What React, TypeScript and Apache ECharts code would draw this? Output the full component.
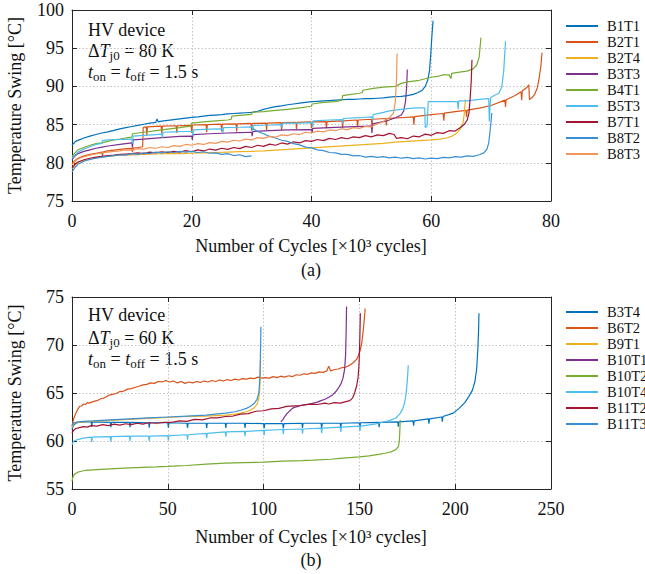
import React, { useEffect, useRef } from 'react';
import * as echarts from 'echarts';

const FONT = "'Liberation Serif', 'Times New Roman', Times, serif";

// ---------- Panel (a): ΔTj0 = 80 K ----------
const namesA = ['B1T1', 'B2T1', 'B2T4', 'B3T3', 'B4T1', 'B5T3', 'B7T1', 'B8T2', 'B8T3'];
const colorsA = ['#0072BD', '#D95319', '#EDB120', '#7E2F8E', '#77AC30', '#4DBEEE', '#A2142F', '#3A8FD4', '#F0955A'];
const xRangeA = [0, 80, 20];
const yRangeA = [75, 100, 5];

const a_B1T1: [number, number][] = [
  [0, 82.3], [0.6, 82.8], [1.2, 83.0], [2, 83.25], [3, 83.5], [4, 83.7], [5, 83.9], [6, 84.05], [7, 84.25], [8, 84.45], [9, 84.6], [10, 84.75], [11, 84.9], [12, 85.05], [13, 85.2], [14, 85.3], [14.2, 85.75], [14.4, 85.35], [15, 85.45], [16, 85.55], [17, 85.65], [18, 85.75], [19, 85.85], [20, 85.95], [21, 86.0], [22, 86.1], [23, 86.2], [24, 86.25], [25, 86.3], [26, 86.4], [27, 86.45], [28, 86.5], [29, 86.55], [30, 86.6], [31, 86.75], [32, 87.0], [33, 87.2], [34, 87.35], [35, 87.45], [36, 87.6], [37, 87.7], [38, 87.8], [39, 87.9], [40, 88.0], [41, 88.05], [42, 88.1], [43, 88.15], [44, 88.2], [45, 88.25], [46, 88.3], [47, 88.3], [48, 88.35], [49, 88.4], [50, 88.4], [51, 88.45], [52, 88.5], [53, 88.6], [54, 88.65], [55, 88.7], [56, 88.8], [57, 88.95], [57.8, 89.2], [58.5, 89.5], [59.0, 90.0], [59.4, 90.8], [59.7, 92.0], [59.9, 94.0], [60.1, 96.5], [60.3, 98.6],
];
const a_B2T1: [number, number][] = [
  [0, 79.9], [0.5, 80.3], [1, 80.6], [2, 80.9], [3, 81.1], [4, 81.25], [5, 81.4], [5.1, 80.9], [5.2, 81.45], [6, 81.55], [7, 81.65], [8, 81.75], [9, 81.85], [10, 81.9], [10.1, 81.4], [10.2, 81.95], [11, 82.0], [11.8, 82.1], [11.9, 84.65], [12.4, 84.7], [12.5, 83.6], [12.6, 84.7], [14.9, 84.8], [15.0, 83.8], [15.1, 84.8], [17.4, 84.85], [17.5, 83.9], [17.6, 84.85], [19.9, 84.9], [20.0, 83.9], [20.1, 84.95], [22.4, 85.0], [22.5, 84.0], [22.6, 85.0], [24.9, 85.05], [25.0, 84.1], [25.1, 85.05], [27.4, 85.1], [27.5, 84.1], [27.6, 85.1], [29.9, 85.15], [30.0, 84.2], [30.1, 85.15], [32.4, 85.2], [32.5, 84.3], [32.6, 85.2], [34.9, 85.25], [35.0, 84.3], [35.1, 85.25], [37.4, 85.3], [37.5, 84.4], [37.6, 85.3], [39.9, 85.35], [40.0, 84.5], [40.1, 85.35], [42.4, 85.4], [42.5, 84.5], [42.6, 85.4], [45.1, 85.5], [45.2, 84.6], [45.3, 85.5], [47.6, 85.6], [47.7, 84.7], [47.8, 85.6], [50.0, 85.7], [50.1, 84.8], [50.2, 85.7], [52.4, 85.8], [52.5, 84.9], [52.6, 85.8], [55.0, 85.9], [57.0, 86.0], [57.1, 85.0], [57.2, 86.05], [60.0, 86.3], [62.0, 86.45], [62.1, 85.5], [62.2, 86.5], [64.0, 86.7], [65.8, 86.85], [65.9, 86.0], [66.0, 86.9], [68.0, 87.15], [70.0, 87.5], [72.3, 88.2], [72.4, 87.3], [72.5, 88.25], [74.0, 88.8], [75.0, 89.3], [75.1, 88.2], [75.2, 89.4], [76.0, 89.9], [76.3, 90.2], [76.4, 88.3], [76.8, 88.5], [77.3, 89.0], [77.7, 89.8], [78.0, 91.0], [78.3, 92.6], [78.5, 94.4],
];
const a_B2T4: [number, number][] = [
  [0, 79.2], [0.5, 79.7], [1, 80.0], [2, 80.3], [3, 80.5], [4, 80.65], [5, 80.75], [6, 80.85], [8, 81.0], [10, 81.05], [12, 81.1], [14, 81.15], [16, 81.2], [18, 81.2], [20, 81.25], [22, 81.3], [24, 81.35], [26, 81.4], [28, 81.45], [30, 81.5], [32, 81.55], [34, 81.65], [36, 81.75], [38, 81.85], [40, 81.95], [42, 82.05], [44, 82.15], [46, 82.25], [48, 82.35], [50, 82.45], [52, 82.55], [54, 82.7], [56, 82.8], [58, 82.9], [60, 83.0], [61.5, 83.1], [62.5, 83.25], [63.5, 83.5], [64.3, 83.9], [64.9, 84.5], [65.3, 85.2], [65.5, 86.3], [65.7, 88.3],
];
const a_B3T3: [number, number][] = [
  [0, 80.4], [0.5, 80.9], [1, 81.2], [2, 81.5], [3, 81.7], [4, 81.9], [5, 82.05], [6, 82.2], [8, 82.4], [10, 82.6], [10.1, 82.0], [10.2, 83.0], [12, 83.1], [15, 83.3], [18, 83.45], [20, 83.5], [20.1, 83.0], [20.2, 83.7], [23, 83.8], [26, 83.9], [28, 83.95], [30, 84.0], [30.1, 83.5], [30.2, 84.1], [33, 84.2], [36, 84.3], [40, 84.35], [40.1, 83.9], [40.2, 84.5], [43, 84.6], [46, 84.7], [50, 84.8], [50.1, 83.9], [50.2, 85.1], [52, 85.4], [53, 85.6], [54, 85.9], [55, 86.25], [55.4, 86.8], [55.7, 88.0], [55.9, 90.0], [56.0, 92.2],
];
const a_B4T1: [number, number][] = [
  [0, 80.8], [0.5, 81.3], [1, 81.7], [2, 82.0], [3, 82.3], [4, 82.5], [5, 82.6], [6, 82.8], [7, 83.0], [8, 83.1], [9, 83.25], [10, 83.35], [10.1, 83.8], [11, 83.9], [12, 84.0], [14, 84.2], [16, 84.4], [18, 84.6], [19.8, 84.8], [20, 85.2], [22, 85.35], [24, 85.5], [26, 85.6], [26.6, 85.7], [26.7, 86.1], [28, 86.2], [30, 86.35], [30.1, 86.6], [32, 86.7], [34, 86.85], [36, 87.0], [38, 87.2], [40, 87.4], [40.1, 87.7], [42, 87.9], [44, 88.0], [45.1, 88.2], [45.2, 88.8], [46, 88.9], [48, 89.1], [48.5, 89.2], [48.6, 89.5], [50, 89.7], [52, 89.9], [54, 90.0], [55, 90.4], [56, 90.6], [58, 90.8], [60, 91.2], [61, 91.3], [62, 91.5], [63, 91.5], [63.3, 91.0], [63.4, 91.7], [65, 91.9], [66, 92.0], [67, 92.3], [67.6, 92.8], [68, 93.8], [68.3, 96.4],
];
const a_B5T3: [number, number][] = [
  [0, 80.6], [0.5, 81.0], [1, 81.4], [2, 81.8], [3, 82.1], [4, 82.4], [5, 82.55], [5.1, 82.9], [6, 83.0], [8, 83.05], [10, 83.1], [10.1, 82.5], [10.2, 83.5], [12, 83.6], [14, 83.7], [15, 83.75], [15.1, 83.3], [15.2, 84.0], [17, 84.05], [19, 84.1], [20.1, 84.1], [20.2, 83.6], [20.3, 84.3], [23, 84.4], [25.1, 84.45], [25.2, 83.9], [25.3, 84.6], [28, 84.65], [30.1, 84.7], [30.2, 84.2], [30.3, 84.9], [33, 84.95], [35, 85.0], [35.1, 84.6], [35.2, 85.2], [38, 85.2], [40.1, 85.25], [40.2, 84.7], [40.3, 85.5], [43, 85.6], [45.1, 85.65], [45.2, 85.1], [45.3, 85.8], [48, 85.9], [50.1, 86.0], [50.2, 85.5], [50.3, 86.3], [52, 86.6], [53, 86.8], [54, 86.9], [55, 87.0], [56, 87.1], [57, 87.15], [58, 87.2], [58.9, 87.2], [59.0, 84.6], [59.3, 84.8], [59.5, 88.0], [61, 88.0], [63, 88.0], [64.4, 88.0], [64.5, 87.0], [64.6, 88.1], [66, 88.1], [67, 88.2], [68, 88.3], [69.6, 88.4], [69.7, 85.4], [69.9, 88.5], [70.5, 88.8], [71.3, 89.1], [71.8, 90.0], [72.1, 92.0], [72.4, 95.9],
];
const a_B7T1: [number, number][] = [
  [0, 79.3], [0.5, 79.8], [1, 80.1], [2, 80.4], [3, 80.6], [4, 80.75], [5, 80.85], [6, 80.95], [7, 81.0], [8, 81.1], [9, 81.15], [10, 81.2], [11, 81.3], [12, 81.2], [13, 81.4], [14, 81.3], [15, 81.45], [16, 81.35], [17, 81.5], [18, 81.4], [19, 81.6], [20, 81.45], [21, 81.7], [22, 81.55], [23, 81.8], [24, 81.65], [25, 81.9], [26, 81.75], [27, 82.0], [28, 81.85], [29, 82.15], [30, 82.0], [31, 82.3], [32, 82.15], [33, 82.45], [34, 82.3], [35, 82.6], [36, 82.45], [37, 82.75], [38, 82.6], [39, 82.9], [40, 82.8], [41, 83.05], [42, 82.9], [43, 83.2], [44, 83.05], [45, 83.3], [46, 83.15], [47, 83.4], [48, 83.3], [49, 83.55], [50, 83.4], [51, 83.65], [52, 83.55], [53, 83.85], [53.8, 83.7], [54.2, 83.2], [55, 83.3], [56, 83.15], [57, 83.5], [58, 83.4], [59, 83.75], [60, 83.6], [61, 83.95], [62, 83.85], [63, 84.2], [64, 84.15], [64.8, 84.6], [65.5, 85.0], [66, 85.6], [66.3, 86.5], [66.5, 88.5], [66.7, 91.0], [66.8, 93.5],
];
const a_B8T2_first: [number, number][] = [
  [0, 78.8], [0.5, 79.4], [1, 79.8], [2, 80.2], [3, 80.45], [4, 80.6], [5, 80.75], [6, 80.85], [7, 80.95], [8, 81.05], [9, 81.0], [10, 81.2], [11, 81.1], [12, 81.3], [13, 81.2], [14, 81.4], [15, 81.3], [16, 81.45], [17, 81.35], [18, 81.5], [19, 81.4], [20, 81.5], [21, 81.35], [22, 81.45], [23, 81.25], [24, 81.3], [25, 81.1], [26, 81.2], [27, 80.95], [28, 81.05], [29, 80.8], [30, 80.9],
];
const a_B8T2_second: [number, number][] = [
  [30.2, 84.5], [31, 84.1], [32, 83.8], [33, 83.45], [34, 83.25], [35, 82.95], [36, 82.8], [37, 82.5], [38, 82.35], [39, 82.05], [40, 81.95], [41, 81.7], [42, 81.6], [43, 81.35], [44, 81.3], [45, 81.1], [46, 81.1], [47, 80.9], [48, 80.95], [49, 80.75], [50, 80.85], [51, 80.7], [52, 80.8], [53, 80.65], [54, 80.75], [55, 80.6], [56, 80.7], [57, 80.55], [58, 80.65], [59, 80.5], [60, 80.6], [61, 80.55], [62, 80.7], [63, 80.65], [64, 80.8], [65, 80.75], [66, 80.9], [67, 80.85], [68, 81.05], [68.8, 81.3], [69.3, 81.8], [69.6, 82.6], [69.8, 84.0], [70.0, 85.5], [70.1, 86.5],
];
const a_B8T3: [number, number][] = [
  [0, 79.7], [0.5, 80.2], [1, 80.5], [2, 80.8], [3, 81.0], [4, 81.15], [5, 81.3], [6, 81.4], [7, 81.5], [8, 81.55], [9, 81.7], [10, 81.65], [11, 81.85], [12, 81.8], [13, 82.0], [14, 81.9], [15, 82.1], [16, 82.0], [17, 82.25], [18, 82.15], [19, 82.4], [20, 82.3], [21, 82.5], [22, 82.4], [23, 82.65], [24, 82.55], [25, 82.8], [26, 82.7], [27, 82.95], [28, 82.85], [29, 83.1], [30, 83.0], [31, 83.3], [32, 83.2], [33, 83.45], [34, 83.35], [35, 83.65], [36, 83.55], [37, 83.8], [38, 83.7], [39, 84.0], [40, 83.9], [41, 84.15], [42, 84.05], [43, 84.3], [44, 84.2], [45, 84.45], [46, 84.35], [47, 84.6], [48, 84.5], [49, 84.75], [50, 84.7], [51, 85.1], [52, 85.4], [53, 85.9], [53.7, 86.5], [54.0, 88.0], [54.2, 91.0], [54.3, 94.3],
];

// ---------- Panel (b): ΔTj0 = 60 K ----------
const namesB = ['B3T4', 'B6T2', 'B9T1', 'B10T1', 'B10T2', 'B10T4', 'B11T2', 'B11T3'];
const colorsB = ['#0072BD', '#D95319', '#EDB120', '#7E2F8E', '#77AC30', '#4DBEEE', '#A2142F', '#3A8FD4'];
const xRangeB = [0, 250, 50];
const yRangeB = [55, 75, 5];

const b_B3T4: [number, number][] = [
  [0, 61.2], [0.5, 61.5], [1, 61.7], [2, 61.85], [4, 61.95], [7, 62.0], [10, 62.0], [10.3, 61.5], [10.6, 62.0], [20, 61.95], [20.3, 61.45], [20.6, 61.95], [30, 61.95], [30.3, 61.45], [30.6, 61.95], [40, 61.9], [40.3, 61.4], [40.6, 61.9], [50, 61.9], [50.3, 61.4], [50.6, 61.9], [60, 61.85], [60.3, 61.35], [60.6, 61.85], [70, 61.85], [70.3, 61.35], [70.6, 61.85], [80, 61.85], [80.3, 61.35], [80.6, 61.85], [90, 61.85], [90.3, 61.35], [90.6, 61.85], [100, 61.8], [100.3, 61.3], [100.6, 61.8], [110, 61.8], [110.3, 61.3], [110.6, 61.8], [120, 61.85], [120.3, 61.35], [120.6, 61.85], [130, 61.85], [130.3, 61.35], [130.6, 61.85], [140, 61.85], [140.3, 61.35], [140.6, 61.85], [150, 61.9], [150.3, 61.4], [150.6, 61.9], [160, 61.95], [160.3, 61.45], [160.6, 61.95], [170, 62.0], [170.3, 61.5], [170.6, 62.0], [178, 62.1], [178.3, 61.6], [178.6, 62.1], [186, 62.3], [186.3, 61.8], [186.6, 62.3], [193, 62.5], [193.3, 62.0], [193.6, 62.55], [199, 62.9], [202, 63.4], [205, 64.0], [207, 64.6], [209, 65.3], [210.3, 66.2], [211.2, 67.5], [211.8, 69.5], [212.2, 71.5], [212.4, 73.3],
];
const b_B6T2: [number, number][] = [
  [0, 61.5], [0.5, 62.0], [1, 62.4], [2, 62.9], [3, 63.3], [4, 63.6], [5, 63.65], [6, 63.85], [7, 63.8], [8, 64.0], [9, 63.95], [11, 64.1], [13, 64.2], [15, 64.4], [17, 64.5], [19, 64.75], [21, 64.85], [23, 64.95], [25, 65.15], [27, 65.2], [29, 65.4], [31, 65.45], [33, 65.6], [35, 65.7], [37, 65.85], [39, 65.9], [41, 66.05], [43, 66.0], [45, 66.2], [47, 66.15], [49, 66.3], [51, 66.15], [53, 66.25], [55, 66.05], [57, 66.2], [59, 66.0], [61, 66.15], [63, 66.05], [65, 66.2], [67, 66.1], [69, 66.25], [71, 66.15], [73, 66.3], [75, 66.2], [77, 66.35], [79, 66.25], [81, 66.4], [83, 66.3], [85, 66.45], [87, 66.35], [89, 66.5], [91, 66.45], [93, 66.55], [95, 66.5], [97, 66.65], [99, 66.55], [101, 66.6], [103, 66.55], [105, 66.7], [107, 66.6], [109, 66.75], [111, 66.65], [113, 66.8], [115, 66.7], [117, 66.9], [119, 66.85], [121, 67.0], [123, 66.95], [125, 67.1], [127, 67.05], [129, 67.2], [131, 67.15], [133, 67.3], [134, 67.8], [135, 67.3], [137, 67.45], [139, 67.5], [141, 67.65], [143, 67.7], [145, 67.9], [147, 68.2], [148.5, 68.5], [149.5, 68.9], [150.5, 69.5], [151.3, 70.3], [152, 71.5], [152.6, 72.8], [153, 73.8],
];
const b_B9T1: [number, number][] = [
  [0, 61.4], [0.5, 61.7], [1, 61.85], [3, 61.95], [6, 62.0], [10, 62.05], [15, 62.1], [20, 62.15], [30, 62.25], [40, 62.35], [50, 62.45], [60, 62.55], [70, 62.6], [80, 62.7], [85, 62.8], [88, 62.9], [91, 63.05], [93, 63.2], [95, 63.45], [96.5, 63.8], [97.5, 64.4], [98, 65.5], [98.3, 67.0], [98.4, 68.4],
];
const b_B10T1: [number, number][] = [
  [109, 62.0], [110, 62.2], [111, 62.55], [112, 62.8], [113, 63.0], [114, 63.2], [115, 63.4], [116, 63.5], [118, 63.6], [120, 63.75], [122, 63.8], [124, 63.85], [126, 63.95], [128, 64.05], [130, 64.2], [132, 64.35], [134, 64.55], [136, 64.8], [137.5, 65.1], [139, 65.5], [140.5, 66.0], [141.5, 66.6], [142.3, 67.5], [142.8, 69.0], [143.1, 71.5], [143.3, 74.0],
];
const b_B10T2: [number, number][] = [
  [0, 55.8], [0.3, 56.1], [0.7, 56.35], [1.5, 56.55], [3, 56.75], [5, 56.85], [7, 56.95], [11, 57.0], [15, 57.05], [20, 57.1], [25, 57.15], [30, 57.2], [37, 57.25], [44, 57.3], [50, 57.35], [55, 57.4], [60, 57.45], [70, 57.6], [80, 57.7], [90, 57.75], [100, 57.8], [110, 57.9], [120, 57.95], [126, 58.0], [135, 58.1], [140, 58.2], [150, 58.35], [155, 58.45], [160, 58.6], [164, 58.75], [167, 58.9], [169, 59.1], [170.3, 59.4], [170.8, 59.9], [171.1, 61.0], [171.3, 62.2],
];
const b_B10T4: [number, number][] = [
  [0, 59.6], [0.5, 59.85], [1, 60.0], [3, 60.15], [6, 60.3], [10, 60.4], [10.3, 59.9], [10.6, 60.4], [20, 60.45], [20.3, 59.95], [20.6, 60.45], [30, 60.5], [30.3, 60.0], [30.6, 60.5], [40, 60.5], [40.3, 60.0], [40.6, 60.5], [50, 60.55], [50.3, 60.05], [50.6, 60.55], [60, 60.65], [60.3, 60.15], [60.6, 60.65], [70, 60.8], [70.3, 60.3], [70.6, 60.8], [80, 60.95], [80.3, 60.45], [80.6, 60.95], [90, 61.0], [90.3, 60.5], [90.6, 61.0], [100, 61.1], [100.3, 60.6], [100.6, 61.1], [110, 61.2], [110.3, 60.7], [110.6, 61.2], [120, 61.25], [120.3, 60.75], [120.6, 61.25], [130, 61.35], [130.3, 60.85], [130.6, 61.35], [140, 61.45], [140.3, 60.95], [140.6, 61.45], [150, 61.55], [150.3, 61.05], [150.6, 61.55], [158, 61.75], [162, 61.95], [166, 62.15], [169, 62.4], [171, 62.8], [172.5, 63.3], [173.5, 63.9], [174.3, 64.8], [174.9, 66.0], [175.3, 67.2], [175.5, 67.9],
];
const b_B11T2: [number, number][] = [
  [0, 60.8], [0.5, 61.0], [1, 61.15], [2, 61.3], [4, 61.4], [6, 61.5], [8, 61.45], [10, 61.6], [13, 61.55], [16, 61.7], [19, 61.6], [22, 61.75], [25, 61.65], [28, 61.8], [31, 61.7], [34, 61.85], [37, 61.75], [40, 61.9], [44, 61.85], [48, 61.95], [52, 61.95], [56, 62.1], [60, 62.05], [64, 62.25], [68, 62.2], [72, 62.4], [76, 62.4], [80, 62.55], [84, 62.6], [88, 62.8], [92, 62.85], [96, 63.1], [100, 63.15], [104, 63.35], [108, 63.4], [112, 63.6], [116, 63.65], [120, 63.7], [124, 63.85], [128, 63.8], [132, 63.95], [134, 63.85], [137, 64.0], [140, 63.95], [143, 64.1], [145, 64.2], [146.5, 64.5], [147.5, 65.0], [148.5, 65.7], [149.3, 66.6], [149.8, 68.0], [150.2, 70.5], [150.5, 73.3],
];
const b_B11T3: [number, number][] = [
  [0, 61.6], [0.5, 61.8], [1, 61.9], [3, 62.0], [6, 62.05], [11, 62.1], [20, 62.2], [30, 62.3], [40, 62.4], [50, 62.5], [60, 62.6], [70, 62.7], [80, 62.9], [85, 63.05], [88, 63.2], [91, 63.4], [93, 63.6], [95, 63.9], [96.5, 64.3], [97.5, 65.0], [98.0, 66.3], [98.3, 68.5], [98.5, 70.5], [98.6, 71.9],
];

const seriesListA: [string, [number, number][]][] = [
  ['B1T1', a_B1T1], ['B2T1', a_B2T1], ['B2T4', a_B2T4], ['B3T3', a_B3T3], ['B4T1', a_B4T1],
  ['B5T3', a_B5T3], ['B7T1', a_B7T1], ['B8T2', a_B8T2_first], ['B8T2', a_B8T2_second], ['B8T3', a_B8T3],
];
const seriesListB: [string, [number, number][]][] = [
  ['B3T4', b_B3T4], ['B6T2', b_B6T2], ['B9T1', b_B9T1], ['B10T1', b_B10T1], ['B10T2', b_B10T2],
  ['B10T4', b_B10T4], ['B11T2', b_B11T2], ['B11T3', b_B11T3],
];

const AXIS_COLOR = '#262626';
const TEXT_COLOR = '#111111';
const FS = 18;

function makeAxis(gridIndex: number, range: number[], position: string, isMain: boolean, isX: boolean) {
  return {
    type: 'value',
    gridIndex,
    min: range[0],
    max: range[1],
    interval: range[2],
    position,
    axisLine: { show: true, onZero: false, lineStyle: { color: AXIS_COLOR, width: 1 } },
    axisTick: { show: true, inside: true, length: 5, lineStyle: { color: AXIS_COLOR, width: 1 } },
    axisLabel: {
      show: isMain,
      fontFamily: FONT,
      fontSize: FS,
      color: TEXT_COLOR,
      margin: isX ? 11 : 8,
    },
    splitLine: {
      show: isMain,
      lineStyle: { color: '#c4c4c4', width: 1, type: [1.5, 2] },
    },
  };
}

const rich = {
  r: { fontFamily: FONT, fontSize: FS, lineHeight: 22, fill: TEXT_COLOR, color: TEXT_COLOR },
  i: { fontFamily: FONT, fontSize: FS, lineHeight: 22, fontStyle: 'italic', fill: TEXT_COLOR, color: TEXT_COLOR },
  s: { fontFamily: FONT, fontSize: 13, lineHeight: 12, verticalAlign: 'bottom', fill: TEXT_COLOR, color: TEXT_COLOR },
};

function annot(x: number, y: number, text: string) {
  return {
    type: 'text',
    x,
    y,
    style: { text, rich, align: 'left', verticalAlign: 'middle', fill: TEXT_COLOR },
  };
}

function plainText(x: number, y: number, text: string, rotation = 0) {
  return {
    type: 'text',
    x,
    y,
    rotation,
    style: {
      text,
      fontFamily: FONT,
      fontSize: FS,
      fill: TEXT_COLOR,
      align: 'center',
      verticalAlign: 'middle',
    },
  };
}

export default function App() {
  const ref = useRef<HTMLDivElement>(null);

  useEffect(() => {
    if (!ref.current) return;
    const chart = echarts.init(ref.current, undefined, { renderer: 'svg' });

    const series: any[] = [];
    seriesListA.forEach(([name, data]) => {
      const color = colorsA[namesA.indexOf(name)];
      series.push({
        type: 'line', name, data, xAxisIndex: 0, yAxisIndex: 0,
        showSymbol: false, symbol: 'none', color,
        lineStyle: { width: 1.2, color }, itemStyle: { color },
      });
    });
    seriesListB.forEach(([name, data]) => {
      const color = colorsB[namesB.indexOf(name)];
      series.push({
        type: 'line', name, data, xAxisIndex: 2, yAxisIndex: 2,
        showSymbol: false, symbol: 'none', color,
        lineStyle: { width: 1.2, color }, itemStyle: { color },
      });
    });

    const legendCommon = {
      orient: 'vertical',
      left: 566,
      icon: 'rect',
      itemWidth: 32,
      itemHeight: 2,
      itemGap: 0,
      selectedMode: false,
      padding: 0,
      textStyle: { fontFamily: FONT, fontSize: 14.5, lineHeight: 16, color: TEXT_COLOR, padding: [0, 0, 0, 4] },
    };

    const option: any = {
      animation: false,
      backgroundColor: '#ffffff',
      grid: [
        { left: 72, top: 10, width: 479, height: 191, containLabel: false },
        { left: 72, top: 297, width: 479, height: 192, containLabel: false },
      ],
      xAxis: [
        makeAxis(0, xRangeA, 'bottom', true, true),
        makeAxis(0, xRangeA, 'top', false, true),
        makeAxis(1, xRangeB, 'bottom', true, true),
        makeAxis(1, xRangeB, 'top', false, true),
      ],
      yAxis: [
        makeAxis(0, yRangeA, 'left', true, false),
        makeAxis(0, yRangeA, 'right', false, false),
        makeAxis(1, yRangeB, 'left', true, false),
        makeAxis(1, yRangeB, 'right', false, false),
      ],
      legend: [
        { ...legendCommon, top: 18, data: namesA },
        { ...legendCommon, top: 304, data: namesB },
      ],
      graphic: [
        annot(88, 29.5, '{r|HV device}'),
        annot(88, 51, '{r|Δ}{i|T}{s|j0}{r| = 80 K}'),
        annot(88, 71.8, '{i|t}{s|on}{r| = }{i|t}{s|off}{r| = 1.5 s}'),
        annot(88, 315, '{r|HV device}'),
        annot(88, 337.6, '{r|Δ}{i|T}{s|j0}{r| = 60 K}'),
        annot(88, 359.3, '{i|t}{s|on}{r| = }{i|t}{s|off}{r| = 1.5 s}'),
        plainText(311, 246, 'Number of Cycles [×10³ cycles]'),
        plainText(311, 270, '(a)'),
        plainText(311, 537, 'Number of Cycles [×10³ cycles]'),
        plainText(311, 560, '(b)'),
        plainText(15, 105.5, 'Temperature Swing [°C]', Math.PI / 2),
        plainText(15, 393, 'Temperature Swing [°C]', Math.PI / 2),
      ],
      series,
    };

    chart.setOption(option);
    return () => chart.dispose();
  }, []);

  return (
    <div
      ref={ref}
      style={{ position: 'absolute', left: 0, top: 0, width: 645, height: 574, background: '#ffffff' }}
    />
  );
}
